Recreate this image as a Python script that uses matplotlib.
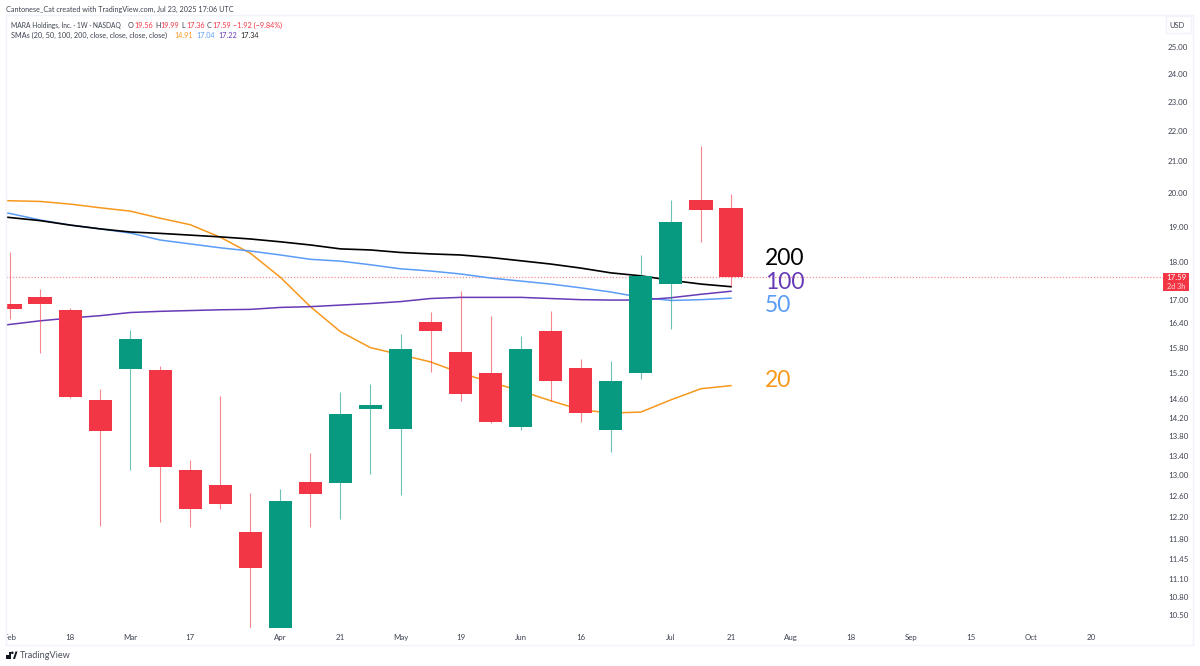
import matplotlib
matplotlib.use('Agg')
import matplotlib.pyplot as plt
from matplotlib.patches import Rectangle, Polygon, Circle
from matplotlib.transforms import Bbox, IdentityTransform

plt.rcParams['font.family'] = ['Lato', 'DejaVu Sans']

W, H = 1200, 666
UP = '#089981'
DOWN = '#F23645'
TXT = '#3d4250'

# weekly candles, Feb 3 to Jul 21 2025
opens = [16.89, 17.07, 16.74, 14.59, 15.29, 15.27, 13.11, 12.81, 11.93, 10.20, 12.87, 12.85, 14.39,
         13.96, 16.44, 15.70, 15.20, 14.00, 16.21, 15.32, 13.94, 15.20, 17.41, 19.80, 19.56]
highs = [18.29, 17.28, 16.79, 14.84, 16.23, 15.37, 13.31, 14.68, 12.66, 12.74, 13.46, 14.77, 14.95,
         16.14, 16.69, 17.23, 16.59, 16.09, 16.71, 15.53, 15.48, 18.20, 19.80, 21.50, 19.99]
lows = [16.51, 15.67, 14.63, 12.04, 13.11, 12.11, 12.02, 12.35, 10.20, 10.10, 12.02, 12.17, 13.03,
        12.62, 15.23, 14.57, 14.09, 13.94, 14.57, 14.11, 13.48, 15.06, 16.26, 18.57, 17.36]
closes = [16.76, 16.89, 14.66, 13.92, 16.01, 13.17, 12.35, 12.45, 11.29, 12.51, 12.64, 14.28, 14.48,
          15.77, 16.21, 14.72, 14.11, 15.77, 15.02, 14.30, 15.02, 17.63, 19.14, 19.49, 17.59]

# moving averages, the first value is the week before the first candle
sma20 = [19.79, 19.77, 19.75, 19.67, 19.56, 19.46, 19.25, 19.06, 18.70, 18.25, 17.59, 16.82, 16.19,
         15.80, 15.63, 15.46, 15.20, 14.99, 14.79, 14.57, 14.37, 14.30, 14.32, 14.59, 14.84, 14.91]
sma50 = [19.48, 19.39, 19.20, 19.05, 18.94, 18.82, 18.62, 18.51, 18.40, 18.31, 18.20, 18.08, 18.03,
         17.93, 17.82, 17.76, 17.68, 17.57, 17.49, 17.41, 17.31, 17.20, 17.06, 16.98, 17.00, 17.04]
sma100 = [16.28, 16.37, 16.46, 16.53, 16.59, 16.67, 16.70, 16.72, 16.74, 16.75, 16.80, 16.82, 16.86,
          16.90, 16.95, 17.03, 17.06, 17.06, 17.06, 17.03, 17.00, 16.99, 16.99, 17.05, 17.14, 17.22]
sma200 = [19.36, 19.27, 19.18, 19.05, 18.94, 18.85, 18.81, 18.76, 18.71, 18.65, 18.57, 18.48, 18.37,
          18.34, 18.27, 18.23, 18.20, 18.13, 18.04, 17.95, 17.84, 17.71, 17.63, 17.51, 17.41, 17.34]

sma_colors = {'20': '#F7981D', '50': '#5B9CF6', '100': '#673AB7', '200': '#000000'}
sma_label_y = {'200': 18.10, '100': 17.45, '50': 16.85, '20': 15.03}

price_ticks = [25, 24, 23, 22, 21, 20, 19, 18, 17, 16.4, 15.8, 15.2, 14.6, 14.2, 13.8, 13.4, 13, 12.6,
               12.2, 11.8, 11.45, 11.1, 10.8, 10.5]
date_pos = [0, 2, 4, 6, 9, 11, 13, 15, 17, 19, 22, 24, 26, 28, 30, 32, 34, 36]
date_labels = ['Feb', '18', 'Mar', '17', 'Apr', '21', 'May', '19', 'Jun', '16', 'Jul', '21', 'Aug', '18',
               'Sep', '15', 'Oct', '20']


def put_text(x, y, s, color=TXT, size=5.2, **kw):
    # x, y in picture pixels from the top left
    return fig.text(x / W, 1 - y / H, s, color=color, fontsize=size, va='center', **kw)


fig = plt.figure(figsize=(12, 6.66), dpi=100)
ax = fig.add_axes([6 / W, 1 - 628 / H, (1163 - 6) / W, (628 - 15) / H])

idx = list(range(len(opens)))
sma_x = list(range(-1, len(opens)))
ax.plot(sma_x, sma20, color=sma_colors['20'], lw=1.1, zorder=2)
ax.plot(sma_x, sma50, color=sma_colors['50'], lw=1.1, zorder=2)
ax.plot(sma_x, sma100, color=sma_colors['100'], lw=1.1, zorder=2)
ax.plot(sma_x, sma200, color=sma_colors['200'], lw=1.2, zorder=2)

colors = [UP if c >= o else DOWN for o, c in zip(opens, closes)]
ax.vlines(idx, lows, highs, colors=colors, lw=0.8, alpha=0.6, zorder=3)
bottoms = [min(o, c) for o, c in zip(opens, closes)]
heights = [abs(c - o) for o, c in zip(opens, closes)]
ax.bar(idx, heights, bottom=bottoms, width=0.77, color=colors, zorder=4)

ax.axhline(closes[-1], color=DOWN, lw=0.9, ls=(0, (1, 1.5)), alpha=0.55, zorder=1)

ax.set_yscale('log')
ax.set_xlim(-0.133, 38.38)
ax.set_ylim(10.30, 26.25)
ax.yaxis.tick_right()
ax.set_yticks(price_ticks)
ax.set_yticklabels([f'{p:.2f}' for p in price_ticks])
ax.minorticks_off()
ax.set_xticks(date_pos)
ax.set_xticklabels(date_labels)
ax.tick_params(axis='both', length=0, labelsize=5.7, labelcolor=TXT)
ax.tick_params(axis='y', pad=3.5)
ax.tick_params(axis='x', pad=4)
for spine in ax.spines.values():
    spine.set_visible(False)
ax.patch.set_alpha(0)

# Feb is cut by the left edge of the pane
fig.canvas.draw()
first = ax.get_xticklabels()[0]
first.set_clip_on(True)
first.set_clip_box(Bbox([[6, 0], [W, H]]))

for name, y in sma_label_y.items():
    ax.text(25.13, y, name, color=sma_colors[name], fontsize=16.5, va='center', ha='left', zorder=5)

# pane frame
tr = IdentityTransform()
fig.add_artist(Rectangle((6, H - 645), 1187, 630, transform=tr, fill=False, ec='#f0f3fa', lw=1))

# last price tag and currency box
fig.add_artist(Rectangle((1163, H - 291), 26, 18, transform=tr, fc=DOWN, ec='none', zorder=5))
put_text(1176, 278, f'{closes[-1]:.2f}', color='white', size=5.7, ha='center', zorder=6)
put_text(1176, 286.5, '2d 3h', color='#ffd9dd', size=5.2, ha='center', zorder=6)
fig.add_artist(Rectangle((1166, H - 33), 25, 17, transform=tr, fc='white', ec='#f0f3fa', lw=1, zorder=5))
put_text(1177, 26, 'USD', size=5.4, ha='center', zorder=6)

# header
put_text(6, 9, 'Cantonese_Cat created with TradingView.com, Jul 23, 2025 17:06 UTC')
put_text(11, 25, 'MARA Holdings, Inc. · 1W · NASDAQ', size=4.8)
for x, s, c in [(128, 'O', TXT), (134, '19.56', DOWN), (155, 'H', TXT), (160, '19.99', DOWN),
                (181, 'L', TXT), (186, '17.36', DOWN), (207, 'C', TXT), (212, '17.59', DOWN),
                (233, '−1.92 (−9.84%)', DOWN)]:
    put_text(x, 25, s, color=c)
put_text(11, 35, 'SMAs (20, 50, 100, 200, close, close, close, close)')
for x, s, c in [(174, '14.91', sma_colors['20']), (196, '17.04', sma_colors['50']),
                (218, '17.22', sma_colors['100']), (240, '17.34', '#222222')]:
    put_text(x, 35, s, color=c)

# TradingView logo
logo = '#131722'
fig.add_artist(Rectangle((6, H - 659), 5, 7.5, transform=tr, fc=logo, ec='none'))
fig.add_artist(Rectangle((6, H - 655), 3, 3.5, transform=tr, fc='white', ec='none'))
fig.add_artist(Circle((12.3, H - 652.8), 1.3, transform=tr, fc=logo, ec='none'))
fig.add_artist(Polygon([(13, H - 659), (15.5, H - 651.5), (17.5, H - 651.5), (15, H - 659)], closed=True,
                       transform=tr, fc=logo, ec='none'))
put_text(20, 655.5, 'TradingView', color='#4a4f5c', size=6.6)

fig.savefig('out.png', dpi=100)
